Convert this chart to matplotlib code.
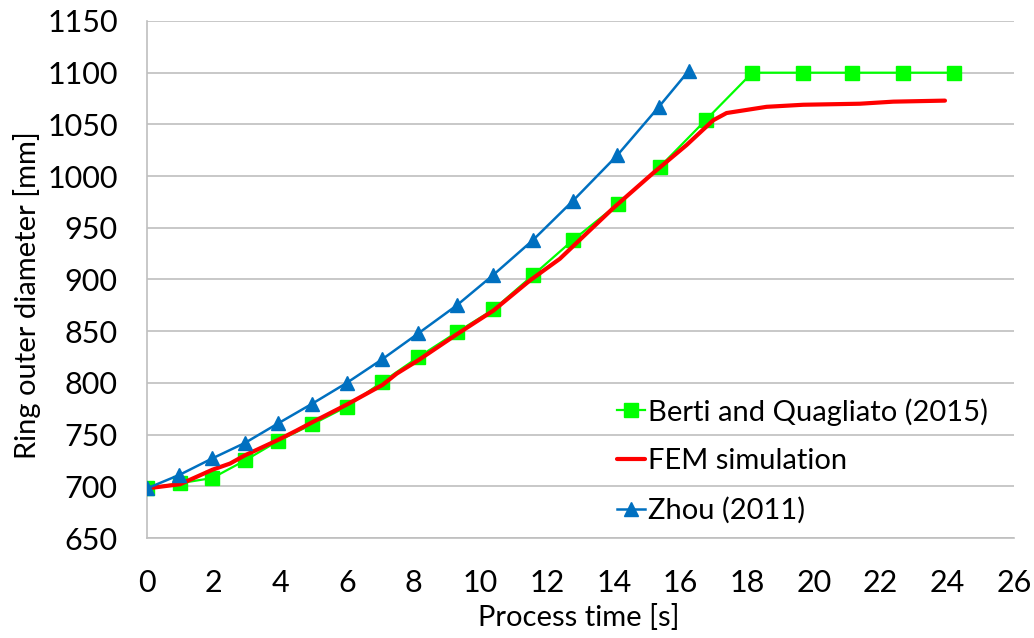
import matplotlib
matplotlib.use("Agg")
import matplotlib.pyplot as plt

plt.rcParams['font.family'] = ['Lato', 'DejaVu Sans']

# Berti and Quagliato (2015)
berti_t = [0.0, 0.99, 1.96, 2.94, 3.94, 4.96, 5.99, 7.06, 8.14, 9.29, 10.39,
           11.57, 12.77, 14.12, 15.38, 16.75, 18.15, 19.66, 21.15, 22.68, 24.21]
berti_d = [698, 703, 708, 725, 744, 760, 777, 801, 825, 849, 871,
           904, 938, 973, 1009, 1054, 1100, 1100, 1100, 1100, 1100]

# FEM simulation
fem_t = [0.0, 0.99, 1.96, 2.49, 2.94, 3.94, 4.49, 4.96, 5.99, 7.06, 7.49,
         8.14, 9.29, 10.39, 11.48, 12.38, 13.98, 15.18, 16.18, 16.98, 17.38,
         18.58, 19.68, 21.38, 22.38, 23.93]
fem_d = [698, 702, 716, 722, 730, 745, 754, 762, 779, 798, 809,
         822, 847, 870, 899, 920, 969, 1003, 1030, 1054, 1061,
         1067, 1069, 1070, 1072, 1073]

# Zhou (2011)
zhou_t = [0.0, 0.97, 1.96, 2.94, 3.94, 4.96, 5.99, 7.06, 8.14, 9.29, 10.37,
          11.57, 12.77, 14.10, 15.35, 16.25]
zhou_d = [698, 711, 727, 742, 761, 780, 800, 823, 848, 875, 904,
          938, 976, 1020, 1067, 1102]

x_ticks = list(range(0, 27, 2))
y_ticks = list(range(650, 1151, 50))

fig = plt.figure(figsize=(10.34, 6.38), dpi=100)
ax = fig.add_axes([147 / 1034, 100 / 638, (1014 - 147) / 1034, (538 - 21) / 638])

ax.plot(berti_t, berti_d, color='#00ff00', lw=1.6, marker='s', ms=9.5,
        label='Berti and Quagliato (2015)', zorder=3)
ax.plot(fem_t, fem_d, color='#ff0000', lw=3.0, solid_capstyle='round',
        solid_joinstyle='round', label='FEM simulation', zorder=4)
ax.plot(zhou_t, zhou_d, color='#0070c0', lw=1.8, marker='^', ms=10,
        label='Zhou (2011)', zorder=5)

ax.set_xlim(0, 26)
ax.set_ylim(650, 1150)
ax.set_xticks(x_ticks)
ax.set_yticks(y_ticks)
ax.tick_params(length=0, labelsize=22)
ax.tick_params(axis='x', pad=22)
ax.tick_params(axis='y', pad=21)
ax.grid(axis='y', color='#bfbfbf', lw=1.2)
ax.set_axisbelow(True)
for s in ['top', 'right']:
    ax.spines[s].set_visible(False)
for s in ['left', 'bottom']:
    ax.spines[s].set_color('#bfbfbf')
    ax.spines[s].set_linewidth(1.2)

ax.set_xlabel('Process time [s]', fontsize=21)
ax.xaxis.set_label_coords(0.498, (538 - 604) / 517)
ax.set_ylabel('Ring outer diameter [mm]', fontsize=21)
ax.yaxis.set_label_coords((41 - 147) / 867, (538 - 295) / 517)

ax.legend(loc='upper left', bbox_to_anchor=((617 - 147) / 867, (538 - 398) / 517),
          frameon=False, fontsize=21, handlelength=0.97, handletextpad=0.1,
          labelspacing=0.78, borderpad=0, borderaxespad=0)

fig.savefig('out.png', dpi=100)
